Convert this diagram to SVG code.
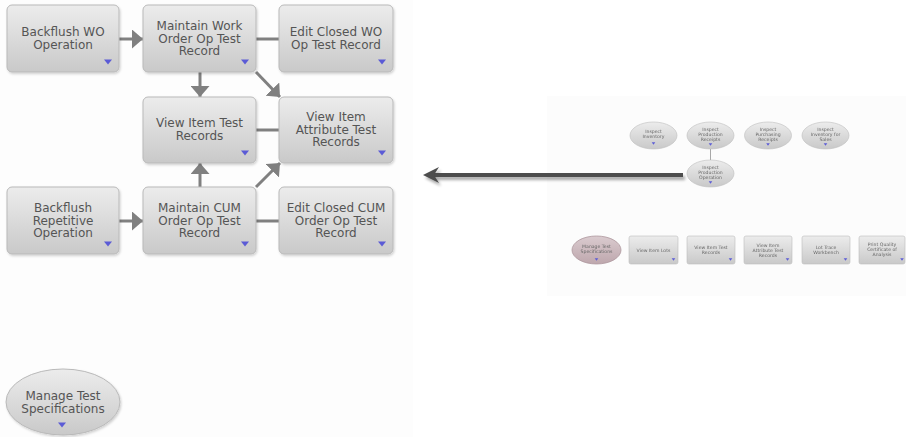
<svg xmlns="http://www.w3.org/2000/svg" xmlns:xlink="http://www.w3.org/1999/xlink" width="906" height="437" viewBox="0 0 906 437">
  <style>
    .box { fill: url(#boxFill); stroke: #b9b9b9; stroke-width: 1; filter: url(#soft); }
    .oval { fill: url(#boxFill); stroke: #b9b9b9; stroke-width: 1; filter: url(#soft); }
    .pink { fill: url(#pinkFill); stroke: #ad979d; stroke-width: 0.8; }
    .lbl { font-family: "DejaVu Sans", Verdana, sans-serif; font-size: 12px; fill: #555555; text-anchor: middle; }
    .tiny { font-family: "DejaVu Sans", Verdana, sans-serif; font-size: 4.6px; fill: #666; text-anchor: middle; }
    .tbox { fill: url(#boxFill); stroke: #bdbdbd; stroke-width: 0.6; }
    .conn { stroke: #808080; stroke-width: 3; fill: none; }
    .thin { stroke: #a8a8a8; stroke-width: 1; fill: none; }
    .ind { fill: #5b5bd6; }
  </style>
  <defs>
    <linearGradient id="boxFill" x1="0" y1="0" x2="0" y2="1">
      <stop offset="0" stop-color="#ececec"/>
      <stop offset="1" stop-color="#c9c9c9"/>
    </linearGradient>
    <linearGradient id="pinkFill" x1="0" y1="0" x2="0" y2="1">
      <stop offset="0" stop-color="#dacbcf"/>
      <stop offset="1" stop-color="#bea7ad"/>
    </linearGradient>
    <filter id="soft" x="-10%" y="-10%" width="125%" height="130%">
      <feDropShadow dx="1" dy="1.5" stdDeviation="1" flood-color="#000" flood-opacity="0.18"/>
    </filter>
    <filter id="haze" x="-5%" y="-5%" width="110%" height="110%">
      <feGaussianBlur stdDeviation="0.55"/>
    </filter>
    <filter id="arrowShadow" x="-5%" y="-50%" width="110%" height="300%">
      <feGaussianBlur in="SourceAlpha" stdDeviation="1.5"/>
      <feOffset dx="2" dy="3" result="b"/>
      <feComponentTransfer><feFuncA type="linear" slope="0.35"/></feComponentTransfer>
      <feMerge><feMergeNode/><feMergeNode in="SourceGraphic"/></feMerge>
    </filter>
    <marker id="head" markerUnits="userSpaceOnUse" markerWidth="12" markerHeight="19" refX="11" refY="9.5" orient="auto">
      <path d="M0,0 L11,9.5 L0,19 z" fill="#808080"/>
    </marker>
    <path id="tri" d="M-4,-2.6 L4,-2.6 L0,2.6 z"/>
    <path id="triS" d="M-1.8,-1.2 L1.8,-1.2 L0,1.2 z"/>
  </defs>

  <!-- page backgrounds -->
  <rect x="0" y="0" width="906" height="437" fill="#ffffff"/>
  <rect x="0" y="0" width="413" height="437" fill="#fdfdfd"/>
  <rect x="547" y="96" width="359" height="200" fill="#fcfcfc"/>

  <!-- connectors -->
  <g id="connectors">
    <line class="conn" x1="119" y1="39" x2="143" y2="39" marker-end="url(#head)"/>
    <line class="conn" x1="256" y1="39" x2="279" y2="39"/>
    <line class="conn" x1="200" y1="72" x2="200" y2="97" marker-end="url(#head)"/>
    <line class="conn" x1="256" y1="72" x2="280" y2="97" marker-end="url(#head)"/>
    <line class="conn" x1="256" y1="130" x2="279" y2="130"/>
    <line class="conn" x1="200" y1="187" x2="200" y2="163" marker-end="url(#head)"/>
    <line class="conn" x1="256" y1="187" x2="280" y2="163" marker-end="url(#head)"/>
    <line class="conn" x1="119" y1="221" x2="143" y2="221" marker-end="url(#head)"/>
    <line class="conn" x1="256" y1="221" x2="279" y2="221"/>
  </g>

  <!-- nodes -->
  <g id="backflush-wo">
    <rect class="box" x="7" y="5" width="112" height="67" rx="5"/>
    <text class="lbl" x="63" y="36">Backflush WO</text>
    <text class="lbl" x="63" y="48.5">Operation</text>
    <use href="#tri" class="ind" x="108" y="62"/>
  </g>
  <g id="maintain-wo">
    <rect class="box" x="143" y="5" width="113" height="67" rx="5"/>
    <text class="lbl" x="199.5" y="30">Maintain Work</text>
    <text class="lbl" x="199.5" y="42.5">Order Op Test</text>
    <text class="lbl" x="199.5" y="55">Record</text>
    <use href="#tri" class="ind" x="245" y="62"/>
  </g>
  <g id="edit-closed-wo">
    <rect class="box" x="279" y="5" width="114" height="67" rx="5"/>
    <text class="lbl" x="336" y="36">Edit Closed WO</text>
    <text class="lbl" x="336" y="48.5">Op Test Record</text>
    <use href="#tri" class="ind" x="382" y="62"/>
  </g>
  <g id="view-item-test">
    <rect class="box" x="143" y="97" width="113" height="66" rx="5"/>
    <text class="lbl" x="199.5" y="127">View Item Test</text>
    <text class="lbl" x="199.5" y="139.5">Records</text>
    <use href="#tri" class="ind" x="245" y="153"/>
  </g>
  <g id="view-item-attribute">
    <rect class="box" x="279" y="97" width="114" height="66" rx="5"/>
    <text class="lbl" x="336" y="121">View Item</text>
    <text class="lbl" x="336" y="133.5">Attribute Test</text>
    <text class="lbl" x="336" y="146">Records</text>
    <use href="#tri" class="ind" x="382" y="153"/>
  </g>
  <g id="backflush-repetitive">
    <rect class="box" x="7" y="187" width="112" height="67" rx="5"/>
    <text class="lbl" x="63" y="212">Backflush</text>
    <text class="lbl" x="63" y="224.5">Repetitive</text>
    <text class="lbl" x="63" y="237">Operation</text>
    <use href="#tri" class="ind" x="108" y="244"/>
  </g>
  <g id="maintain-cum">
    <rect class="box" x="143" y="187" width="113" height="67" rx="5"/>
    <text class="lbl" x="199.5" y="212">Maintain CUM</text>
    <text class="lbl" x="199.5" y="224.5">Order Op Test</text>
    <text class="lbl" x="199.5" y="237">Record</text>
    <use href="#tri" class="ind" x="245" y="244"/>
  </g>
  <g id="edit-closed-cum">
    <rect class="box" x="279" y="187" width="114" height="67" rx="5"/>
    <text class="lbl" x="336" y="212">Edit Closed CUM</text>
    <text class="lbl" x="336" y="224.5">Order Op Test</text>
    <text class="lbl" x="336" y="237">Record</text>
    <use href="#tri" class="ind" x="382" y="244"/>
  </g>
  <g id="manage-test-specs">
    <ellipse class="oval" cx="63" cy="402" rx="57" ry="33"/>
    <text class="lbl" x="63" y="399.5">Manage Test</text>
    <text class="lbl" x="63" y="412.5">Specifications</text>
    <use href="#tri" class="ind" x="62" y="425"/>
  </g>

  <!-- pointer from the overview map back to the detail view -->
  <g id="overview-pointer" filter="url(#arrowShadow)">
    <line x1="683" y1="175" x2="432" y2="175" stroke="#4d4d4d" stroke-width="4"/>
    <path d="M423,175 L439,167 L434,175 L439,183 z" fill="#4d4d4d"/>
  </g>

  <!-- overview map (small-scale copy of the process map) -->
  <g id="overview" filter="url(#haze)">
    <line class="thin" x1="710.5" y1="149" x2="710.5" y2="160"/>
    <g id="ov-inspect-inventory">
      <ellipse class="tbox" cx="653.5" cy="135.5" rx="23.5" ry="13.5"/>
      <text class="tiny" x="653.5" y="133">Inspect</text>
      <text class="tiny" x="653.5" y="138">Inventory</text>
      <use href="#triS" class="ind" x="653.5" y="143.5"/>
    </g>
    <g id="ov-inspect-production-receipts">
      <ellipse class="tbox" cx="710.5" cy="135.5" rx="23.5" ry="13.5"/>
      <text class="tiny" x="710.5" y="131">Inspect</text>
      <text class="tiny" x="710.5" y="136">Production</text>
      <text class="tiny" x="710.5" y="141">Receipts</text>
      <use href="#triS" class="ind" x="710.5" y="144.5"/>
    </g>
    <g id="ov-inspect-purchasing-receipts">
      <ellipse class="tbox" cx="768" cy="135.5" rx="23.5" ry="13.5"/>
      <text class="tiny" x="768" y="131">Inspect</text>
      <text class="tiny" x="768" y="136">Purchasing</text>
      <text class="tiny" x="768" y="141">Receipts</text>
      <use href="#triS" class="ind" x="768" y="144.5"/>
    </g>
    <g id="ov-inspect-inventory-sales">
      <ellipse class="tbox" cx="825.5" cy="135.5" rx="23.5" ry="13.5"/>
      <text class="tiny" x="825.5" y="131">Inspect</text>
      <text class="tiny" x="825.5" y="136">Inventory for</text>
      <text class="tiny" x="825.5" y="141">Sales</text>
      <use href="#triS" class="ind" x="825.5" y="144.5"/>
    </g>
    <g id="ov-inspect-production-operation">
      <ellipse class="tbox" cx="710.5" cy="173.5" rx="23.5" ry="13.5"/>
      <text class="tiny" x="710.5" y="169">Inspect</text>
      <text class="tiny" x="710.5" y="174">Production</text>
      <text class="tiny" x="710.5" y="179">Operation</text>
      <use href="#triS" class="ind" x="710.5" y="182.5"/>
    </g>
    <g id="ov-manage-test-specs">
      <ellipse class="pink" cx="596.5" cy="250" rx="24.5" ry="14"/>
      <text class="tiny" x="596.5" y="248">Manage Test</text>
      <text class="tiny" x="596.5" y="253">Specifications</text>
      <use href="#triS" class="ind" x="596.5" y="259.5"/>
    </g>
    <g id="ov-view-item-lots">
      <rect class="tbox" x="629" y="236" width="49" height="28" rx="2"/>
      <text class="tiny" x="653.5" y="251.5">View Item Lots</text>
      <use href="#triS" class="ind" x="673.5" y="259.5"/>
    </g>
    <g id="ov-view-item-test">
      <rect class="tbox" x="687" y="236" width="48" height="28" rx="2"/>
      <text class="tiny" x="711" y="249">View Item Test</text>
      <text class="tiny" x="711" y="254">Records</text>
      <use href="#triS" class="ind" x="730.5" y="259.5"/>
    </g>
    <g id="ov-view-item-attribute">
      <rect class="tbox" x="744" y="236" width="48" height="28" rx="2"/>
      <text class="tiny" x="768" y="246.5">View Item</text>
      <text class="tiny" x="768" y="251.5">Attribute Test</text>
      <text class="tiny" x="768" y="256.5">Records</text>
      <use href="#triS" class="ind" x="787.5" y="259.5"/>
    </g>
    <g id="ov-lot-trace">
      <rect class="tbox" x="802" y="236" width="48" height="28" rx="2"/>
      <text class="tiny" x="826" y="249">Lot Trace</text>
      <text class="tiny" x="826" y="254">Workbench</text>
      <use href="#triS" class="ind" x="845.5" y="259.5"/>
    </g>
    <g id="ov-print-quality">
      <rect class="tbox" x="859" y="236" width="46" height="28" rx="2"/>
      <text class="tiny" x="882" y="245.5">Print Quality</text>
      <text class="tiny" x="882" y="250.5">Certificate of</text>
      <text class="tiny" x="882" y="255.5">Analysis</text>
      <use href="#triS" class="ind" x="902" y="259.5"/>
    </g>
  </g>
</svg>
